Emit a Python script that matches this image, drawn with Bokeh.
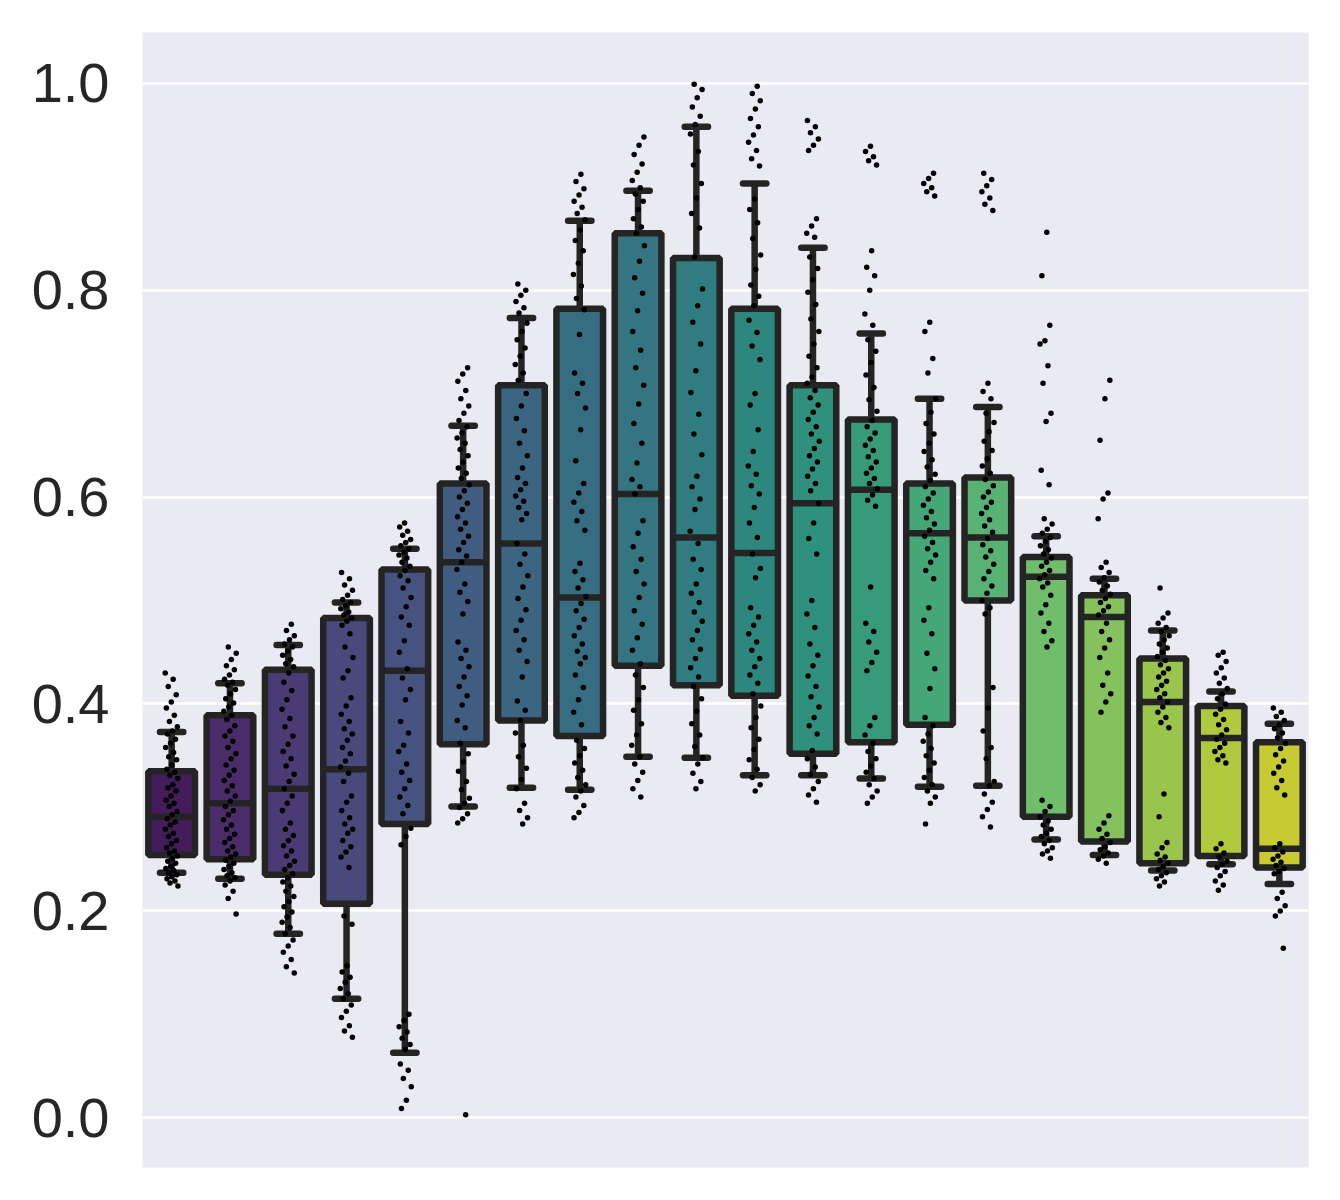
import colorsys
from bokeh.plotting import figure
from bokeh.models import ColumnDataSource, Range1d, FixedTicker, PrintfTickFormatter
from bokeh.palettes import Viridis256
from bokeh.embed import file_html
from bokeh.resources import INLINE

# ---- data ----
categories = list(range(20))
whisker_hi = [0.373, 0.420, 0.457, 0.498, 0.550, 0.669, 0.773, 0.867, 0.896, 0.958,
              0.903, 0.841, 0.758, 0.695, 0.687, 0.562, 0.521, 0.471, 0.412, 0.381]
q3 = [0.335, 0.389, 0.433, 0.483, 0.530, 0.613, 0.708, 0.782, 0.855, 0.831,
      0.782, 0.708, 0.675, 0.613, 0.619, 0.542, 0.505, 0.444, 0.398, 0.363]
median = [0.291, 0.304, 0.318, 0.337, 0.432, 0.537, 0.555, 0.503, 0.603, 0.561,
          0.546, 0.594, 0.607, 0.565, 0.561, 0.523, 0.484, 0.402, 0.367, 0.260]
q1 = [0.254, 0.250, 0.235, 0.207, 0.284, 0.361, 0.384, 0.369, 0.437, 0.418,
      0.408, 0.352, 0.363, 0.380, 0.500, 0.291, 0.267, 0.246, 0.253, 0.242]
whisker_lo = [0.237, 0.231, 0.178, 0.115, 0.063, 0.301, 0.319, 0.317, 0.349, 0.348,
              0.331, 0.331, 0.328, 0.320, 0.321, 0.269, 0.254, 0.239, 0.245, 0.226]

pts0 = [0.430, 0.424, 0.417, 0.409, 0.402, 0.396, 0.389, 0.383, 0.378, 0.374, 0.371, 0.366, 0.362, 0.358, 0.353, 0.349, 0.346, 0.341, 0.337, 0.334, 0.331, 0.328, 0.322, 0.319, 0.316, 0.311, 0.307, 0.304, 0.301, 0.296, 0.293, 0.289, 0.286, 0.283, 0.279, 0.275, 0.272, 0.268, 0.265, 0.261, 0.258, 0.256, 0.253, 0.251, 0.248, 0.246, 0.243, 0.241, 0.239, 0.237, 0.235, 0.233, 0.231, 0.229, 0.227, 0.224]
pts1 = [0.455, 0.449, 0.443, 0.437, 0.433, 0.428, 0.424, 0.421, 0.418, 0.414, 0.41, 0.405, 0.401, 0.397, 0.393, 0.389, 0.385, 0.379, 0.374, 0.369, 0.364, 0.358, 0.352, 0.347, 0.341, 0.336, 0.331, 0.326, 0.321, 0.316, 0.311, 0.306, 0.301, 0.297, 0.293, 0.288, 0.283, 0.279, 0.274, 0.27, 0.266, 0.262, 0.258, 0.255, 0.252, 0.249, 0.246, 0.243, 0.24, 0.237, 0.234, 0.232, 0.229, 0.225, 0.219, 0.212, 0.197]
pts2 = [0.477, 0.471, 0.466, 0.462, 0.458, 0.455, 0.451, 0.447, 0.443, 0.439, 0.436, 0.43, 0.421, 0.413, 0.404, 0.395, 0.386, 0.378, 0.369, 0.361, 0.354, 0.347, 0.34, 0.332, 0.325, 0.318, 0.311, 0.304, 0.297, 0.285, 0.279, 0.273, 0.268, 0.263, 0.258, 0.253, 0.248, 0.244, 0.24, 0.236, 0.232, 0.228, 0.224, 0.219, 0.214, 0.209, 0.204, 0.199, 0.194, 0.189, 0.184, 0.178, 0.172, 0.166, 0.16, 0.153, 0.146, 0.14]
pts3 = [0.527, 0.521, 0.515, 0.51, 0.505, 0.501, 0.498, 0.495, 0.492, 0.489, 0.486, 0.483, 0.48, 0.476, 0.468, 0.455, 0.445, 0.432, 0.425, 0.406, 0.398, 0.39, 0.383, 0.376, 0.371, 0.365, 0.358, 0.352, 0.345, 0.339, 0.333, 0.325, 0.311, 0.305, 0.297, 0.29, 0.284, 0.279, 0.275, 0.268, 0.262, 0.257, 0.252, 0.242, 0.195, 0.187, 0.147, 0.141, 0.136, 0.131, 0.125, 0.12, 0.115, 0.109, 0.103, 0.097, 0.089, 0.084, 0.078]
pts4 = [0.575, 0.571, 0.567, 0.563, 0.559, 0.556, 0.553, 0.55, 0.547, 0.544, 0.541, 0.537, 0.533, 0.529, 0.524, 0.519, 0.512, 0.503, 0.494, 0.484, 0.476, 0.461, 0.45, 0.434, 0.425, 0.414, 0.404, 0.383, 0.372, 0.36, 0.354, 0.342, 0.334, 0.326, 0.318, 0.31, 0.302, 0.294, 0.28, 0.272, 0.264, 0.1, 0.094, 0.088, 0.083, 0.077, 0.071, 0.066, 0.052, 0.046, 0.038, 0.03, 0.017, 0.009]
pts5 = [0.725, 0.719, 0.712, 0.703, 0.695, 0.688, 0.681, 0.674, 0.668, 0.662, 0.657, 0.652, 0.646, 0.64, 0.634, 0.628, 0.623, 0.618, 0.612, 0.606, 0.6, 0.594, 0.588, 0.581, 0.575, 0.569, 0.562, 0.556, 0.549, 0.543, 0.537, 0.53, 0.516, 0.508, 0.499, 0.487, 0.46, 0.452, 0.444, 0.436, 0.426, 0.417, 0.408, 0.399, 0.384, 0.377, 0.362, 0.352, 0.344, 0.335, 0.325, 0.317, 0.309, 0.304, 0.3, 0.294, 0.289, 0.285, 0.003]
pts6 = [0.806, 0.8, 0.795, 0.789, 0.783, 0.778, 0.768, 0.76, 0.752, 0.744, 0.736, 0.728, 0.72, 0.713, 0.7, 0.688, 0.676, 0.664, 0.652, 0.64, 0.628, 0.619, 0.613, 0.607, 0.601, 0.596, 0.59, 0.584, 0.578, 0.555, 0.545, 0.535, 0.524, 0.513, 0.502, 0.491, 0.481, 0.471, 0.462, 0.452, 0.441, 0.426, 0.403, 0.394, 0.384, 0.372, 0.36, 0.349, 0.338, 0.327, 0.318, 0.304, 0.297, 0.29, 0.284]
pts7 = [0.912, 0.905, 0.898, 0.892, 0.886, 0.88, 0.874, 0.868, 0.858, 0.848, 0.838, 0.826, 0.815, 0.804, 0.792, 0.781, 0.757, 0.72, 0.71, 0.7, 0.686, 0.665, 0.635, 0.613, 0.604, 0.595, 0.586, 0.577, 0.568, 0.536, 0.528, 0.52, 0.512, 0.504, 0.497, 0.49, 0.482, 0.474, 0.466, 0.458, 0.451, 0.445, 0.439, 0.428, 0.416, 0.404, 0.392, 0.38, 0.365, 0.357, 0.35, 0.343, 0.336, 0.329, 0.322, 0.316, 0.31, 0.302, 0.295, 0.29]
pts8 = [0.948, 0.94, 0.931, 0.922, 0.914, 0.906, 0.899, 0.893, 0.886, 0.878, 0.869, 0.861, 0.855, 0.843, 0.828, 0.812, 0.797, 0.78, 0.76, 0.742, 0.725, 0.708, 0.69, 0.671, 0.652, 0.633, 0.617, 0.61, 0.603, 0.577, 0.565, 0.552, 0.54, 0.528, 0.516, 0.503, 0.49, 0.477, 0.464, 0.452, 0.439, 0.428, 0.416, 0.404, 0.394, 0.381, 0.37, 0.36, 0.349, 0.342, 0.334, 0.326, 0.318, 0.31]
pts9 = [0.999, 0.994, 0.986, 0.977, 0.968, 0.96, 0.951, 0.934, 0.921, 0.903, 0.889, 0.874, 0.86, 0.832, 0.801, 0.785, 0.769, 0.748, 0.722, 0.701, 0.68, 0.661, 0.641, 0.62, 0.61, 0.598, 0.588, 0.567, 0.555, 0.54, 0.53, 0.516, 0.507, 0.498, 0.489, 0.48, 0.471, 0.462, 0.453, 0.444, 0.435, 0.426, 0.417, 0.405, 0.393, 0.381, 0.37, 0.359, 0.348, 0.342, 0.333, 0.325, 0.318]
pts10 = [0.997, 0.99, 0.983, 0.975, 0.966, 0.958, 0.95, 0.943, 0.935, 0.927, 0.92, 0.888, 0.878, 0.865, 0.85, 0.834, 0.82, 0.805, 0.794, 0.785, 0.771, 0.759, 0.746, 0.733, 0.7, 0.689, 0.665, 0.644, 0.63, 0.622, 0.611, 0.603, 0.59, 0.575, 0.561, 0.545, 0.531, 0.522, 0.493, 0.484, 0.476, 0.468, 0.46, 0.452, 0.444, 0.436, 0.428, 0.42, 0.41, 0.398, 0.387, 0.377, 0.366, 0.356, 0.346, 0.337, 0.329, 0.322, 0.316]
pts11 = [0.964, 0.958, 0.952, 0.946, 0.94, 0.935, 0.869, 0.862, 0.855, 0.851, 0.832, 0.821, 0.81, 0.798, 0.786, 0.772, 0.76, 0.748, 0.736, 0.725, 0.716, 0.71, 0.703, 0.696, 0.689, 0.682, 0.675, 0.668, 0.661, 0.654, 0.647, 0.64, 0.634, 0.627, 0.62, 0.613, 0.606, 0.594, 0.575, 0.56, 0.545, 0.5, 0.487, 0.474, 0.458, 0.447, 0.437, 0.427, 0.417, 0.407, 0.397, 0.387, 0.379, 0.371, 0.355, 0.347, 0.339, 0.332, 0.325, 0.318, 0.312, 0.305]
pts12 = [0.939, 0.934, 0.929, 0.925, 0.921, 0.838, 0.822, 0.814, 0.8, 0.777, 0.766, 0.752, 0.741, 0.73, 0.718, 0.706, 0.694, 0.683, 0.674, 0.668, 0.662, 0.656, 0.65, 0.645, 0.639, 0.634, 0.628, 0.623, 0.618, 0.613, 0.608, 0.602, 0.597, 0.591, 0.513, 0.478, 0.47, 0.46, 0.45, 0.44, 0.432, 0.387, 0.379, 0.37, 0.362, 0.354, 0.347, 0.34, 0.334, 0.328, 0.322, 0.316, 0.31, 0.304]
pts13 = [0.913, 0.908, 0.903, 0.899, 0.895, 0.891, 0.769, 0.76, 0.734, 0.72, 0.695, 0.682, 0.671, 0.661, 0.652, 0.644, 0.636, 0.629, 0.622, 0.616, 0.61, 0.604, 0.598, 0.592, 0.586, 0.58, 0.574, 0.568, 0.562, 0.556, 0.55, 0.544, 0.537, 0.529, 0.521, 0.493, 0.481, 0.468, 0.449, 0.434, 0.415, 0.387, 0.379, 0.371, 0.364, 0.357, 0.35, 0.343, 0.336, 0.329, 0.322, 0.316, 0.31, 0.304, 0.284]
pts14 = [0.913, 0.907, 0.901, 0.895, 0.889, 0.883, 0.877, 0.71, 0.702, 0.695, 0.681, 0.672, 0.663, 0.654, 0.645, 0.637, 0.63, 0.623, 0.617, 0.611, 0.605, 0.6, 0.595, 0.59, 0.584, 0.578, 0.572, 0.566, 0.56, 0.554, 0.548, 0.542, 0.535, 0.528, 0.521, 0.514, 0.507, 0.5, 0.493, 0.487, 0.416, 0.396, 0.374, 0.358, 0.347, 0.325, 0.321, 0.313, 0.305, 0.298, 0.291, 0.281]
pts15 = [0.856, 0.814, 0.766, 0.751, 0.748, 0.727, 0.71, 0.681, 0.673, 0.626, 0.612, 0.579, 0.574, 0.569, 0.565, 0.561, 0.557, 0.553, 0.549, 0.545, 0.541, 0.537, 0.533, 0.529, 0.525, 0.521, 0.517, 0.513, 0.505, 0.496, 0.488, 0.478, 0.47, 0.461, 0.455, 0.307, 0.301, 0.296, 0.291, 0.287, 0.283, 0.279, 0.275, 0.272, 0.268, 0.265, 0.261, 0.258, 0.255, 0.251]
pts16 = [0.713, 0.695, 0.655, 0.604, 0.598, 0.579, 0.537, 0.532, 0.527, 0.522, 0.518, 0.514, 0.51, 0.506, 0.502, 0.498, 0.494, 0.49, 0.486, 0.478, 0.47, 0.462, 0.454, 0.445, 0.43, 0.418, 0.41, 0.402, 0.392, 0.292, 0.285, 0.279, 0.274, 0.27, 0.266, 0.262, 0.259, 0.256, 0.253, 0.25, 0.246]
pts17 = [0.512, 0.488, 0.483, 0.478, 0.474, 0.47, 0.466, 0.462, 0.458, 0.454, 0.45, 0.446, 0.442, 0.438, 0.434, 0.43, 0.426, 0.422, 0.418, 0.414, 0.41, 0.406, 0.402, 0.397, 0.392, 0.387, 0.382, 0.377, 0.313, 0.291, 0.266, 0.261, 0.255, 0.252, 0.249, 0.246, 0.243, 0.24, 0.237, 0.234, 0.231, 0.228, 0.224]
pts18 = [0.45, 0.447, 0.441, 0.435, 0.43, 0.425, 0.42, 0.415, 0.41, 0.405, 0.4, 0.395, 0.39, 0.385, 0.38, 0.375, 0.37, 0.366, 0.362, 0.358, 0.354, 0.35, 0.346, 0.343, 0.265, 0.26, 0.256, 0.252, 0.248, 0.245, 0.242, 0.238, 0.234, 0.229, 0.225, 0.22]
pts19 = [0.396, 0.392, 0.388, 0.384, 0.38, 0.376, 0.372, 0.367, 0.362, 0.357, 0.351, 0.345, 0.339, 0.333, 0.326, 0.319, 0.312, 0.265, 0.261, 0.257, 0.253, 0.25, 0.247, 0.244, 0.241, 0.238, 0.236, 0.218, 0.212, 0.205, 0.2, 0.195, 0.164]
points = [pts0, pts1, pts2, pts3, pts4, pts5, pts6, pts7, pts8, pts9,
          pts10, pts11, pts12, pts13, pts14, pts15, pts16, pts17, pts18, pts19]
y_ticks = [0.0, 0.2, 0.4, 0.6, 0.8, 1.0]

# ---- styling ----
n = len(categories)
def desat(hexc, prop=0.75):
    r, g, b = (int(hexc[i:i + 2], 16) / 255 for i in (1, 3, 5))
    h, l, s = colorsys.rgb_to_hls(r, g, b)
    r, g, b = colorsys.hls_to_rgb(h, l, s * prop)
    return "#%02x%02x%02x" % (round(r * 255), round(g * 255), round(b * 255))

colors = [desat(Viridis256[min(255, int((i + 1) / (n + 1) * 256))]) for i in range(n)]
LINE = "#242424"
LW = 6.5
BOXW = 0.8
CAPW = 0.4

p = figure(width=1340, height=1200, output_backend="svg", toolbar_location=None,
           x_range=Range1d(-0.5, n - 0.5), y_range=Range1d(-0.048, 1.049),
           min_border_left=142, min_border_right=32, min_border_top=32, min_border_bottom=33)
p.background_fill_color = "#EAEAF2"
p.border_fill_color = "white"
p.outline_line_color = None
p.xgrid.grid_line_color = None
p.ygrid.grid_line_color = "white"
p.ygrid.grid_line_width = 2.5
p.xaxis.visible = False
p.yaxis.ticker = FixedTicker(ticks=y_ticks)
p.yaxis.formatter = PrintfTickFormatter(format="%.1f")
p.yaxis.axis_line_color = None
p.yaxis.major_tick_line_color = None
p.yaxis.minor_tick_line_color = None
p.yaxis.major_tick_out = 0
p.yaxis.major_label_standoff = 33
p.yaxis.major_label_text_font = "Liberation Sans"
p.yaxis.major_label_text_font_size = "56px"
p.yaxis.major_label_text_color = "#262626"

src = ColumnDataSource(dict(
    x=categories, left=[c - BOXW / 2 for c in categories], right=[c + BOXW / 2 for c in categories],
    q1=q1, q3=q3, med=median, lo=whisker_lo, hi=whisker_hi,
    cl=[c - CAPW / 2 for c in categories], cr=[c + CAPW / 2 for c in categories], color=colors))

# whiskers
p.segment(x0="x", x1="x", y0="q3", y1="hi", source=src, line_color=LINE, line_width=LW)
p.segment(x0="x", x1="x", y0="lo", y1="q1", source=src, line_color=LINE, line_width=LW)
# caps
p.segment(x0="cl", x1="cr", y0="hi", y1="hi", source=src, line_color=LINE, line_width=LW, line_cap="round")
p.segment(x0="cl", x1="cr", y0="lo", y1="lo", source=src, line_color=LINE, line_width=LW, line_cap="round")
# boxes
p.quad(left="left", right="right", bottom="q1", top="q3", source=src,
       fill_color="color", line_color=LINE, line_width=LW)
# medians
p.segment(x0="left", x1="right", y0="med", y1="med", source=src, line_color=LINE, line_width=LW)

# strip points with deterministic jitter
xs, ys = [], []
for c, vals in zip(categories, points):
    for j, v in enumerate(vals):
        off = ((j * 0.6180339 + c * 0.37) % 1.0 - 0.5) * 0.22
        xs.append(c + off)
        ys.append(v)
p.scatter(x=xs, y=ys, size=5.5, fill_color="black", line_color=None)

open("out.html", "w").write(file_html(p, INLINE))
